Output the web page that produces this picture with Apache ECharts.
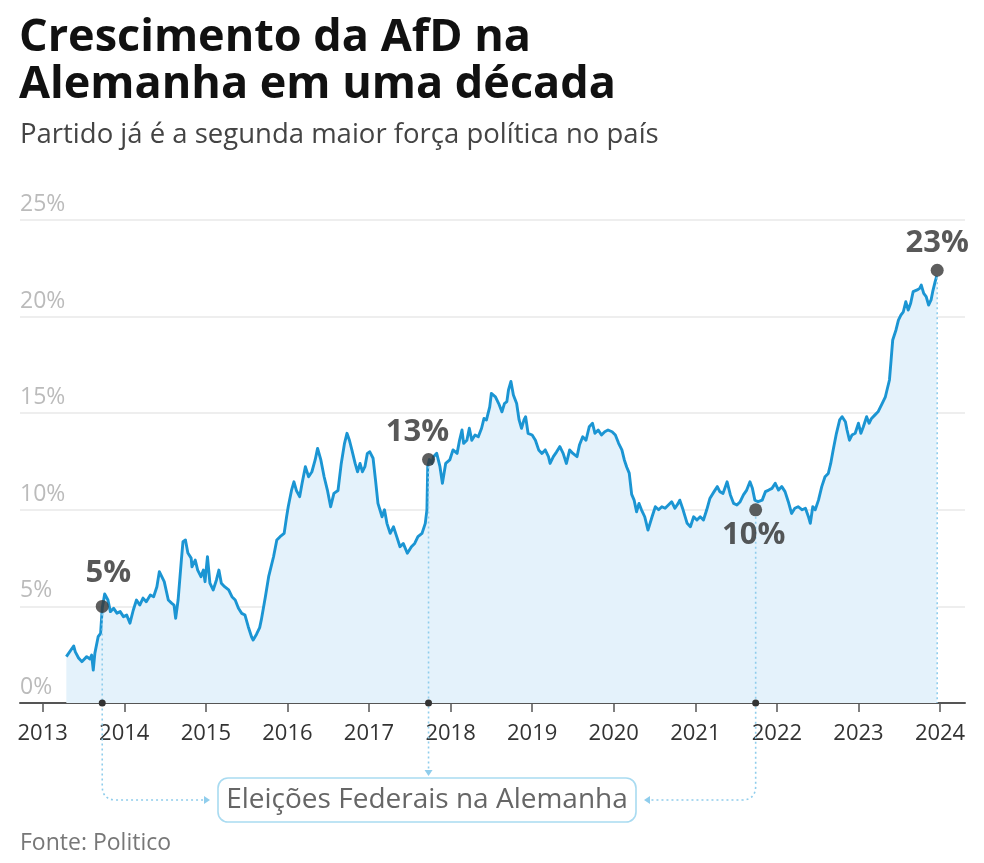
<!DOCTYPE html>
<html>
<head>
<meta charset="utf-8">
<script src="https://cdn.jsdelivr.net/npm/echarts@6/dist/echarts.min.js"></script>
<style>
  html, body { margin: 0; padding: 0; background: #ffffff; }
  #chart { width: 984px; height: 863px; }
</style>
</head>
<body>
<div id="chart"></div>
<script>
// ---------- DATA ----------
const titleText = 'Crescimento da AfD na\nAlemanha em uma década';
const subtitleText = 'Partido já é a segunda maior força política no país';
const sourceText = 'Fonte: Politico';
const boxText = 'Eleições Federais na Alemanha';

const tickYears = [2013, 2014, 2015, 2016, 2017, 2018, 2019, 2020, 2021, 2022, 2023, 2024];
const yTicks = [0, 5, 10, 15, 20, 25];

// poll average (% vote intention), x in decimal years
const lineYears = [
  2013.29, 2013.38, 2013.40, 2013.44, 2013.48, 2013.54, 2013.58, 2013.60, 2013.62, 2013.64, 2013.68, 2013.71, 2013.73,
  2013.76, 2013.80, 2013.83, 2013.87, 2013.91, 2013.95, 2013.99, 2014.03, 2014.07, 2014.11, 2014.15, 2014.19, 2014.23,
  2014.27, 2014.32, 2014.36, 2014.40, 2014.43, 2014.46, 2014.49, 2014.54, 2014.58, 2014.61, 2014.63, 2014.66, 2014.70,
  2014.72, 2014.75, 2014.78, 2014.82, 2014.83, 2014.87, 2014.90, 2014.94, 2014.97, 2014.99, 2015.02, 2015.05, 2015.09,
  2015.13, 2015.16, 2015.19, 2015.23, 2015.28, 2015.32, 2015.36, 2015.40, 2015.44, 2015.48, 2015.52, 2015.56, 2015.58,
  2015.62, 2015.66, 2015.68, 2015.73, 2015.77, 2015.83, 2015.87, 2015.91, 2015.96, 2015.99, 2016.01, 2016.05, 2016.08,
  2016.11, 2016.15, 2016.18, 2016.22, 2016.26, 2016.30, 2016.34, 2016.37, 2016.41, 2016.45, 2016.49, 2016.53, 2016.57,
  2016.62, 2016.66, 2016.70, 2016.73, 2016.76, 2016.79, 2016.83, 2016.86, 2016.89, 2016.92, 2016.95, 2016.98, 2017.01,
  2017.05, 2017.08, 2017.11, 2017.16, 2017.19, 2017.22, 2017.26, 2017.30, 2017.34, 2017.38, 2017.42, 2017.47, 2017.52,
  2017.56, 2017.60, 2017.65, 2017.69, 2017.71, 2017.72, 2017.74, 2017.77, 2017.79, 2017.83, 2017.87, 2017.90, 2017.94,
  2017.99, 2018.03, 2018.08, 2018.11, 2018.14, 2018.16, 2018.20, 2018.23, 2018.26, 2018.30, 2018.34, 2018.38, 2018.41,
  2018.44, 2018.48, 2018.50, 2018.55, 2018.59, 2018.63, 2018.66, 2018.69, 2018.71, 2018.74, 2018.77, 2018.81, 2018.84,
  2018.87, 2018.90, 2018.92, 2018.95, 2019.00, 2019.04, 2019.08, 2019.12, 2019.16, 2019.20, 2019.22, 2019.26, 2019.30,
  2019.34, 2019.38, 2019.42, 2019.46, 2019.50, 2019.55, 2019.58, 2019.62, 2019.66, 2019.70, 2019.74, 2019.77, 2019.81,
  2019.85, 2019.89, 2019.93, 2019.98, 2020.02, 2020.06, 2020.10, 2020.13, 2020.16, 2020.19, 2020.22, 2020.25, 2020.28,
  2020.31, 2020.34, 2020.38, 2020.42, 2020.47, 2020.51, 2020.55, 2020.59, 2020.63, 2020.67, 2020.71, 2020.75, 2020.79,
  2020.81, 2020.85, 2020.90, 2020.94, 2020.98, 2021.02, 2021.06, 2021.10, 2021.14, 2021.18, 2021.23, 2021.27, 2021.30,
  2021.34, 2021.39, 2021.43, 2021.47, 2021.51, 2021.55, 2021.59, 2021.63, 2021.67, 2021.70, 2021.73, 2021.77, 2021.82,
  2021.86, 2021.90, 2021.94, 2021.98, 2022.02, 2022.06, 2022.10, 2022.14, 2022.18, 2022.22, 2022.26, 2022.31, 2022.35,
  2022.39, 2022.41, 2022.44, 2022.47, 2022.51, 2022.55, 2022.59, 2022.63, 2022.66, 2022.69, 2022.73, 2022.77, 2022.80,
  2022.84, 2022.86, 2022.89, 2022.92, 2022.96, 2023.00, 2023.03, 2023.06, 2023.10, 2023.13, 2023.16, 2023.20, 2023.24,
  2023.29, 2023.33, 2023.35, 2023.38, 2023.40, 2023.42, 2023.46, 2023.49, 2023.52, 2023.55, 2023.58, 2023.61, 2023.64,
  2023.67, 2023.72, 2023.75, 2023.77, 2023.80, 2023.83, 2023.86, 2023.89, 2023.91, 2023.94, 2023.96
];
const lineValues = [
  2.4, 2.95, 2.65, 2.33, 2.14, 2.4, 2.28, 2.48, 1.7, 2.58, 3.43, 3.6, 4.9,
  5.64, 5.33, 4.73, 4.9, 4.65, 4.73, 4.47, 4.55, 4.13, 4.8, 5.33, 5.07, 5.43,
  5.24, 5.59, 5.5, 6.02, 6.8, 6.54, 6.28, 5.33, 5.17, 5.07, 4.38, 5.33, 7.4,
  8.35, 8.44, 7.76, 7.5, 7.05, 7.4, 6.88, 6.54, 6.88, 6.28, 7.57, 6.2, 5.85,
  6.37, 6.88, 6.2, 6.02, 5.85, 5.5, 5.33, 4.9, 4.64, 4.55, 3.95, 3.43, 3.26,
  3.55, 3.9, 4.3, 5.5, 6.54, 7.57, 8.44, 8.61, 8.78, 9.64, 10.16, 11.0, 11.45,
  11.0, 10.68, 11.37, 12.23, 11.71, 11.97, 12.58, 13.18, 12.58, 11.71, 11.02, 10.16, 10.85,
  11.0, 12.4, 13.44, 13.96, 13.6, 13.1, 12.4, 11.97, 12.4, 11.97, 12.23, 12.92, 13.0,
  12.67, 11.54, 10.33, 9.64, 10.0, 9.3, 8.78, 9.12, 8.61, 8.09, 8.26, 7.75, 8.09,
  8.26, 8.61, 8.78, 9.3, 10.0, 12.23, 12.6, 12.4, 12.75, 12.92, 12.23, 11.37, 12.4,
  12.58, 13.1, 12.92, 13.6, 14.13, 13.44, 13.6, 14.22, 13.6, 13.87, 13.78, 14.22, 14.73,
  14.65, 15.33, 16.02, 15.85, 15.5, 15.07, 15.5, 15.6, 16.2, 16.64, 15.94, 15.5, 14.65,
  14.22, 14.65, 14.82, 13.96, 13.87, 13.6, 13.1, 12.92, 13.1, 12.75, 12.4, 12.75, 13.0,
  13.27, 12.92, 12.4, 13.1, 12.92, 12.75, 13.35, 13.78, 13.6, 14.3, 14.48, 13.96, 14.13,
  13.87, 14.04, 14.13, 14.04, 13.87, 13.44, 13.1, 12.58, 12.2, 11.9, 10.8, 10.5, 9.9,
  10.33, 10.0, 9.64, 8.95, 9.64, 10.16, 10.0, 10.16, 10.08, 10.25, 10.42, 10.08, 10.33,
  10.5, 10.0, 9.3, 9.12, 9.64, 9.47, 9.64, 9.47, 10.0, 10.6, 10.94, 11.2, 10.94,
  10.85, 11.45, 10.77, 10.33, 10.25, 10.42, 10.77, 11.02, 11.45, 11.11, 10.5, 10.42, 10.5,
  10.94, 11.02, 11.11, 11.37, 11.02, 11.2, 10.94, 10.42, 9.81, 10.08, 10.16, 10.0, 10.08,
  9.6, 9.3, 10.16, 10.0, 10.5, 11.2, 11.71, 11.88, 12.4, 13.1, 13.96, 14.65, 14.82,
  14.56, 14.13, 13.6, 13.87, 13.96, 14.48, 13.96, 14.3, 14.82, 14.48, 14.73, 14.9, 15.07,
  15.5, 15.85, 16.2, 16.72, 17.75, 18.79, 19.31, 19.82, 20.08, 20.25, 20.77, 20.34, 20.69,
  21.29, 21.38, 21.46, 21.63, 21.2, 21.03, 20.6, 20.86, 21.29, 21.81, 22.1
];

// highlighted points (federal elections + latest)
const eventYears = [2013.73, 2017.73, 2021.74, 2023.965];
const eventValues = [5.0, 12.6, 10.0, 22.4];
const eventLabels = ['5%', '13%', '10%', '23%'];

// ---------- STYLE / LAYOUT ----------
const FONT = '"Open Sans", "Noto Sans", sans-serif';
const lineColor = '#1b95d3';
const areaColor = '#e4f2fb';
const dotColor = '#363636';
const connColor = '#8fcdec';
const labelPlacement = [
  { position: 'top', distance: 11, offset: [6, 0] },
  { position: 'top', distance: 5, offset: [-11, 0] },
  { position: 'bottom', distance: 3, offset: [-2, 0] },
  { position: 'top', distance: 5, offset: [0, 0] }
];
const connectorKinds = ['toRight', 'down', 'toLeft', 'axis'];
const box = { left: 218, top: 778, width: 418, height: 44, r: 10 };

const lineData = lineYears.map((x, i) => [x, lineValues[i]]);
const eventData = eventYears.map((x, i) => ({
  value: [x, eventValues[i]],
  label: {
    position: labelPlacement[i].position,
    distance: labelPlacement[i].distance,
    offset: labelPlacement[i].offset
  }
}));

function renderConnector(params, api) {
  const i = params.dataIndex;
  const kind = connectorKinds[i];
  const p = api.coord([api.value(0), api.value(1)]);
  const b = api.coord([api.value(0), 0]);
  const x = p[0];
  const startY = p[1] + 7;
  const midY = box.top + box.height / 2;
  const R = 14;
  const lineStyle = { stroke: connColor, lineWidth: 1.6, lineDash: [2, 3], fill: null };
  const children = [];
  let d;
  if (kind === 'axis') {
    d = `M${x},${startY} L${x},${b[1]}`;
  } else if (kind === 'down') {
    d = `M${x},${startY} L${x},${box.top - 6}`;
    children.push({ type: 'polygon', shape: { points: [[x - 4, box.top - 8], [x + 4, box.top - 8], [x, box.top - 2]] }, style: { fill: connColor } });
  } else if (kind === 'toRight') {
    const ax = box.left - 8;
    d = `M${x},${startY} L${x},${midY - R} Q${x},${midY} ${x + R},${midY} L${ax - 4},${midY}`;
    children.push({ type: 'polygon', shape: { points: [[ax - 6, midY - 4], [ax - 6, midY + 4], [ax, midY]] }, style: { fill: connColor } });
  } else {
    const ax = box.left + box.width + 8;
    d = `M${x},${startY} L${x},${midY - R} Q${x},${midY} ${x - R},${midY} L${ax + 4},${midY}`;
    children.push({ type: 'polygon', shape: { points: [[ax + 6, midY - 4], [ax + 6, midY + 4], [ax, midY]] }, style: { fill: connColor } });
  }
  children.unshift({ type: 'path', shape: { pathData: d }, style: lineStyle });
  if (kind !== 'axis') {
    children.push({ type: 'circle', shape: { cx: x, cy: b[1], r: 3.5 }, style: { fill: '#333333' }, z2: 10 });
  }
  return { type: 'group', children };
}

const chart = echarts.init(document.getElementById('chart'), null, { renderer: 'canvas' });
chart.setOption({
  backgroundColor: '#ffffff',
  animation: false,
  title: [
    { text: titleText, left: 19, top: 15, padding: 0,
      textStyle: { fontFamily: FONT, fontSize: 45, fontWeight: 'bold', color: '#111111', lineHeight: 47 } },
    { text: subtitleText, left: 20, top: 122, padding: 0,
      textStyle: { fontFamily: FONT, fontSize: 27.5, fontWeight: 'normal', color: '#444444', lineHeight: 27 } },
    { text: sourceText, left: 20, top: 832, padding: 0,
      textStyle: { fontFamily: FONT, fontSize: 23, fontWeight: 'normal', color: '#777777', lineHeight: 23 } }
  ],
  grid: { left: 20, right: 19, top: 220, bottom: 160, containLabel: false },
  xAxis: {
    type: 'value',
    min: 2012.722,
    max: 2024.306,
    axisLine: { show: true, lineStyle: { color: '#555555', width: 2 } },
    axisTick: { show: true, length: 9, customValues: tickYears, lineStyle: { color: '#555555', width: 1.5 } },
    axisLabel: { show: true, customValues: tickYears, margin: 20, fontFamily: FONT, fontSize: 22, color: '#333333',
      formatter: v => String(Math.round(v)) },
    splitLine: { show: false }
  },
  yAxis: {
    type: 'value',
    min: 0, max: 25, interval: 5,
    axisLine: { show: false },
    axisTick: { show: false },
    axisLabel: { inside: true, margin: 0, align: 'left', verticalAlign: 'bottom', padding: [0, 0, 4, 0],
      fontFamily: FONT, fontSize: 23, color: '#bbbbbb', formatter: '{value}%' },
    splitLine: { show: true, lineStyle: { color: '#e8e8e8', width: 1.5 } }
  },
  series: [
    {
      type: 'line',
      data: lineData,
      showSymbol: false,
      smooth: false,
      lineStyle: { color: lineColor, width: 2.9, join: 'round' },
      areaStyle: { color: areaColor, opacity: 1 },
      z: 2
    },
    {
      type: 'custom',
      data: eventData.map(d => d.value),
      renderItem: renderConnector,
      clip: false,
      silent: true,
      z: 3
    },
    {
      type: 'scatter',
      data: eventData,
      symbolSize: 13,
      itemStyle: { color: dotColor },
      label: {
        show: true,
        formatter: p => eventLabels[p.dataIndex],
        fontFamily: FONT, fontSize: 31, fontWeight: 'bold', color: '#2e2e2e'
      },
      z: 5
    }
  ],
  graphic: [
    {
      type: 'group',
      children: [
        { type: 'rect', shape: { x: box.left, y: box.top, width: box.width, height: box.height, r: box.r },
          style: { fill: '#ffffff', stroke: '#a9dbf1', lineWidth: 1.6 } },
        { type: 'text', x: box.left + box.width / 2, y: box.top + box.height / 2,
          style: { text: boxText, font: `28px ${FONT}`, fill: '#666666', align: 'center', verticalAlign: 'middle' } }
      ]
    }
  ]
});
</script>
</body>
</html>
